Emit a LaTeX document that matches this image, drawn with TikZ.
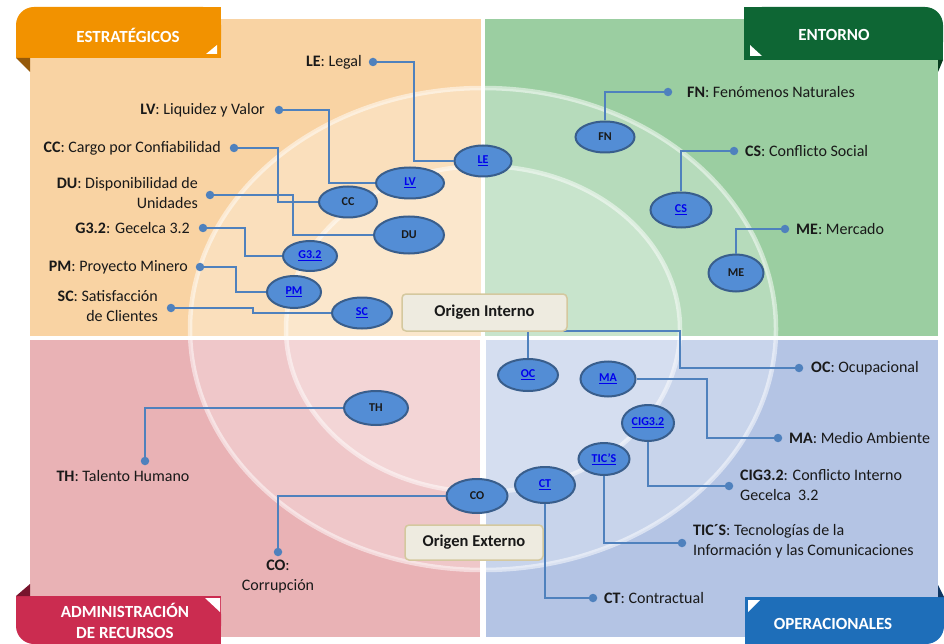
\documentclass[tikz,border=0pt]{standalone}
\usepackage{fontspec}
\setmainfont{Carlito}
\usetikzlibrary{shapes.geometric}
\definecolor{orpanel}{RGB}{249,211,163}
\definecolor{grpanel}{RGB}{155,206,161}
\definecolor{pkpanel}{RGB}{233,178,181}
\definecolor{blpanel}{RGB}{180,196,228}
\definecolor{ortab}{RGB}{242,146,0}
\definecolor{grtab}{RGB}{14,102,52}
\definecolor{pktab}{RGB}{203,44,80}
\definecolor{bltab}{RGB}{30,110,185}
\definecolor{orfold}{RGB}{150,90,10}
\definecolor{grfold}{RGB}{8,60,30}
\definecolor{pkfold}{RGB}{120,20,45}
\definecolor{blfold}{RGB}{15,55,100}
\definecolor{elfill}{RGB}{83,141,213}
\definecolor{eldraw}{RGB}{57,94,140}
\definecolor{conncol}{RGB}{79,129,189}
\definecolor{txtcol}{RGB}{25,25,25}
\definecolor{linkcol}{RGB}{0,0,238}
\definecolor{boxfill}{RGB}{238,235,224}
\definecolor{boxdraw}{RGB}{212,200,158}
\newcommand\lk[1]{\textcolor{linkcol}{\underline{#1}}}
\begin{document}
\begin{tikzpicture}[x=1pt,y=-1pt,
  riskel/.style={ellipse, draw=eldraw, line width=2pt, fill=elfill, inner sep=0pt,
     text=txtcol, font=\fontsize{12}{13}\selectfont\bfseries},
  conn/.style={draw=conncol, line width=1.5pt},
  dotnode/.style={circle, fill=conncol, inner sep=0pt, minimum size=8.5pt},
  lbl/.style={font=\fontsize{16}{20}\selectfont, inner sep=0pt, text=txtcol},
  tabtxt/.style={font=\fontsize{17}{21}\selectfont\bfseries, text=white, align=center, inner sep=0pt},
  origbox/.style={draw=boxdraw, fill=boxfill, line width=1.5pt, rounded corners=4pt,
     font=\fontsize{16.5}{20}\selectfont\bfseries, text=txtcol, inner sep=0pt}
]
\useasboundingbox (0,0) rectangle (944,644);
\fill[white] (0,0) rectangle (944,644);
% panels
\fill[orpanel] (30,19) rectangle (481,336);
\fill[grpanel] (485,19) rectangle (938,336);
\fill[pkpanel] (30,340) rectangle (480,637);
\fill[blpanel] (486,340) rectangle (938,637);
% rings
\fill[white, opacity=0.28] (483,329) ellipse [x radius=293pt, y radius=241pt];
\fill[white, opacity=0.25] (483,329) ellipse [x radius=197pt, y radius=163pt];
\draw[white, opacity=0.5, line width=4.5pt] (483,329) ellipse [x radius=293pt, y radius=241pt];
\draw[white, opacity=0.5, line width=4.5pt] (483,329) ellipse [x radius=197pt, y radius=163pt];
% re-draw white gaps
\fill[white] (481,19) rectangle (485,637);
\fill[white] (30,336) rectangle (938,340);
% tabs
\fill[ortab, rounded corners=18pt] (16,7) rectangle (221,58);
\fill[ortab] (50,7) rectangle (221,58);
\fill[ortab] (16,35) rectangle (221,58);
\fill[orfold] (16,58) -- (30,58) -- (30,72) -- cycle;
\fill[white] (217,45) -- (217,54) -- (206,54) -- cycle;
\node[tabtxt] (tabE) at (128,35) {ESTRATÉGICOS};

\fill[grtab, rounded corners=18pt] (744,7) rectangle (943,60);
\fill[grtab] (744,7) rectangle (910,60);
\fill[grtab] (744,35) rectangle (943,60);
\fill[grfold] (943,60) -- (938,60) -- (938,72) -- cycle;
\fill[white] (750,45) -- (750,56) -- (762,56) -- cycle;
\node[tabtxt] (tabN) at (834,35) {ENTORNO};

\fill[pktab, rounded corners=18pt] (16,596) rectangle (221,644);
\fill[pktab] (50,596) rectangle (221,644);
\fill[pktab] (16,596) rectangle (221,620);
\fill[pkfold] (16,596) -- (30,596) -- (30,584) -- cycle;
\fill[white] (205,598) -- (220,598) -- (220,612) -- cycle;
\node[tabtxt] (tabA) at (125,621) {ADMINISTRACIÓN\\DE RECURSOS};

\fill[bltab, rounded corners=18pt] (745,597) rectangle (944,644);
\fill[bltab] (745,597) rectangle (910,644);
\fill[bltab] (745,597) rectangle (944,620);
\fill[blfold] (938,585) -- (938,597) -- (944,597) -- cycle;
\fill[white] (748,600) -- (760,600) -- (748,612) -- cycle;
\node[tabtxt] (tabO) at (833,624) {OPERACIONALES};

% risk ellipses
\node[riskel, minimum width=57pt, minimum height=31pt] (le) at (483,161) {\lk{LE}};
\node[riskel, minimum width=68pt, minimum height=31pt] (lv) at (410,183) {\lk{LV}};
\node[riskel, minimum width=58pt, minimum height=31pt] (cc) at (348,202) {CC};
\node[riskel, minimum width=70pt, minimum height=37pt] (du) at (409,235) {DU};
\node[riskel, minimum width=54pt, minimum height=30pt] (g32) at (310,256) {\lk{G3.2}};
\node[riskel, minimum width=54pt, minimum height=32pt] (pm) at (294,292) {\lk{PM}};
\node[riskel, minimum width=60pt, minimum height=31pt] (sc) at (362,313) {\lk{SC}};
\node[riskel, minimum width=59pt, minimum height=31pt] (fn) at (605,137) {FN};
\node[riskel, minimum width=61pt, minimum height=35pt] (cs) at (681,210) {\lk{CS}};
\node[riskel, minimum width=55pt, minimum height=37pt] (me) at (736,273) {ME};
\node[riskel, minimum width=60pt, minimum height=32pt] (oc) at (528,375) {\lk{OC}};
\node[riskel, minimum width=55pt, minimum height=35pt] (ma) at (608,379) {\lk{MA}};
\node[riskel, minimum width=52pt, minimum height=36pt] (cig) at (648,423) {\lk{CIG3.2}};
\node[riskel, minimum width=51pt, minimum height=32pt] (tic) at (604,459) {\lk{TIC'S}};
\node[riskel, minimum width=60pt, minimum height=36pt] (ct) at (545,485) {\lk{CT}};
\node[riskel, minimum width=61pt, minimum height=34pt] (co) at (477,496) {CO};
\node[riskel, minimum width=64pt, minimum height=34pt] (th) at (376,408) {TH};

% dots
\node[dotnode] (dle) at (373,62) {};
\node[dotnode] (dlv) at (279,110) {};
\node[dotnode] (dcc) at (234,148) {};
\node[dotnode] (ddu) at (210,195) {};
\node[dotnode] (dg32) at (203,228) {};
\node[dotnode] (dpm) at (200,267) {};
\node[dotnode] (dsc) at (171,308) {};
\node[dotnode] (dfn) at (668,92) {};
\node[dotnode] (dcs) at (734,151) {};
\node[dotnode] (dme) at (785,229) {};
\node[dotnode] (doc) at (799,368) {};
\node[dotnode] (dma) at (778,438) {};
\node[dotnode] (dcig) at (729,486) {};
\node[dotnode] (dtic) at (682,543) {};
\node[dotnode] (dct) at (593,598) {};
\node[dotnode] (dco) at (278,552) {};
\node[dotnode] (dth) at (145,461) {};

% connectors
\draw[conn] (dle.center) -- (414,62) |- (le.west);
\draw[conn] (dlv.center) -- (329,110) |- (lv.west);
\draw[conn] (dcc.center) -- (278,148) |- (cc.west);
\draw[conn] (ddu.center) -- (293,195) |- (du.west);
\draw[conn] (dg32.center) -- (245,228) |- (g32.west);
\draw[conn] (dpm.center) -- (236,267) |- (pm.west);
\draw[conn] (dsc.center) -- (253,308) |- (sc.west);
\draw[conn] (fn.north) |- (dfn.center);
\draw[conn] (cs.north) |- (dcs.center);
\draw[conn] (me.north) |- (dme.center);
\draw[conn] (oc.north) |- (680,331) |- (doc.center);
\draw[conn] (ma.east) -| (707,438) -- (dma.center);
\draw[conn] (cig.south) |- (dcig.center);
\draw[conn] (tic.south) |- (dtic.center);
\draw[conn] (ct.south) |- (dct.center);
\draw[conn] (co.west) -| (dco.center);
\draw[conn] (th.west) -| (dth.center);

% labels
\node[lbl, anchor=east] (lle) at (362,62) {\textbf{LE}: Legal};
\node[lbl, anchor=east] (llv) at (265,110) {\textbf{LV}: Liquidez y Valor};
\node[lbl, anchor=east] (lcc) at (221,148) {\textbf{CC}: Cargo por Confiabilidad};
\node[lbl, anchor=east, align=right] (ldu) at (198,193) {\textbf{DU}: Disponibilidad de\\Unidades};
\node[lbl, anchor=east] (lg32) at (190,228) {\textbf{G3.2}: Gecelca 3.2};
\node[lbl, anchor=east] (lpm) at (188,267) {\textbf{PM}: Proyecto Minero};
\node[lbl, anchor=east, align=right] (lsc) at (158,306) {\textbf{SC}: Satisfacción\\de Clientes};
\node[lbl, anchor=west] (lfn) at (687,92) {\textbf{FN}: Fenómenos Naturales};
\node[lbl, anchor=west] (lcs) at (745,151) {\textbf{CS}: Conflicto Social};
\node[lbl, anchor=west] (lme) at (796,229) {\textbf{ME}: Mercado};
\node[lbl, anchor=west] (loc) at (811,368) {\textbf{OC}: Ocupacional};
\node[lbl, anchor=west] (lma) at (789,438) {\textbf{MA}: Medio Ambiente};
\node[lbl, anchor=west, align=left] (lcig) at (740,485) {\textbf{CIG3.2}: Conflicto Interno\\Gecelca~~3.2};
\node[lbl, anchor=west, align=left] (ltic) at (693,541) {\textbf{TIC´S}: Tecnologías de la\\Información y las Comunicaciones};
\node[lbl, anchor=west] (lct) at (604,598) {\textbf{CT}: Contractual};
\node[lbl, align=center] (lco) at (278,577) {\textbf{CO}:\\Corrupción};
\node[lbl] (lth) at (123,476) {\textbf{TH}: Talento Humano};

% origin boxes
\node[origbox, minimum width=165pt, minimum height=37pt] (oint) at (484.5,312.5) {Origen Interno};
\node[origbox, minimum width=138pt, minimum height=35pt] (oext) at (474,542.5) {Origen Externo};
\end{tikzpicture}
\end{document}
